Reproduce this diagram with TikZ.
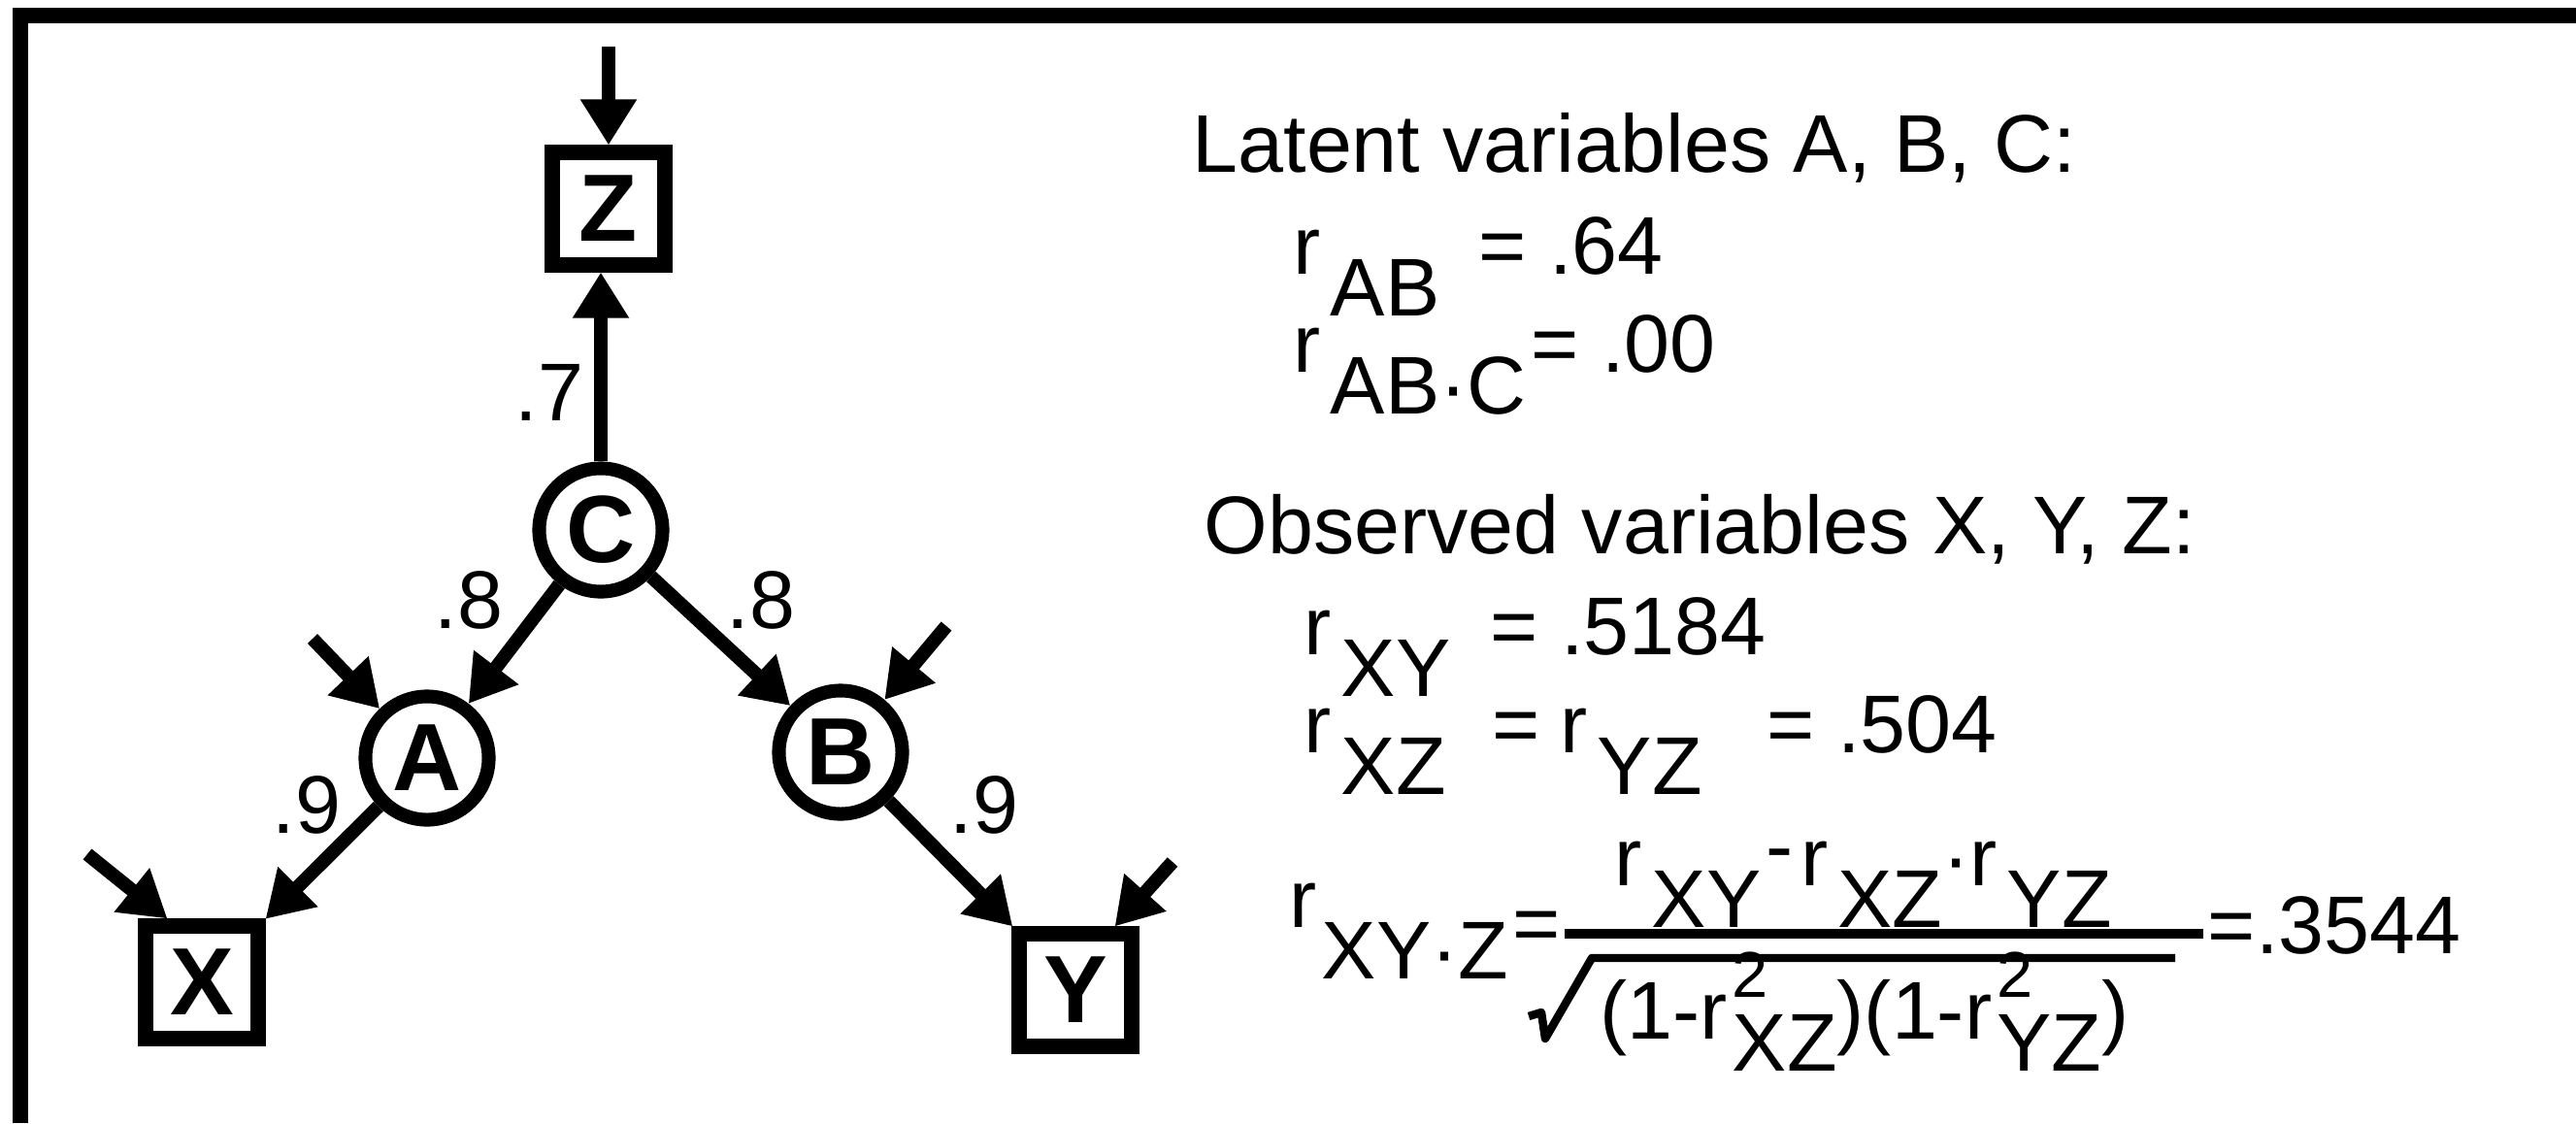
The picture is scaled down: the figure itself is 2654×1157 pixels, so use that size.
\documentclass[tikz,border=0pt]{standalone}
\usepackage{fontspec}
\setmainfont{Liberation Sans}
\usetikzlibrary{arrows.meta}
\newcommand{\lowsub}[2][0.43cm]{\kern0.1cm\raisebox{-#1}{#2}}
\newcommand{\supsub}[2]{\kern0.05cm\rlap{\raisebox{0.42cm}{\fontsize{19}{23}\selectfont #1}}\raisebox{-0.33cm}{#2}}

\begin{document}
\begin{tikzpicture}[x=0.01cm, y=-0.01cm,
    obs/.style={draw, line width=4.3pt, minimum size=1.16cm, inner sep=0pt,
                font=\fontsize{28}{34}\selectfont\bfseries},
    lat/.style={draw, circle, line width=4pt, minimum size=1.27cm, inner sep=0pt,
                font=\fontsize{28}{34}\selectfont\bfseries},
    arr/.style={-{Triangle[length=4.7mm, width=5.5mm]}, line width=4pt},
    txt/.style={anchor=base west, inner sep=0pt, font=\fontsize{24}{29}\selectfont},
]
    \useasboundingbox (0,0) rectangle (2654,1157);
    \draw[line width=4.5pt] (21,1157) -- (21,16) -- (2654,16);

    \node[obs] (Z) at (627,215) {Z};
    \node[lat] (C) at (619,546) {C};
    \node[lat] (A) at (440,781) {A};
    \node[lat] (B) at (866,775) {B};
    \node[obs] (X) at (208,1012) {X};
    \node[obs] (Y) at (1108,1020) {Y};

    \coordinate (eZ) at (627,48);
    \coordinate (eA) at (322,658);
    \coordinate (eB) at (975,645);
    \coordinate (eX) at (90,880);
    \coordinate (eY) at (1208,888);

    \draw[arr] (C) -- (C |- Z.south);
    \draw[arr] (C) -- (A);
    \draw[arr] (C) -- (B);
    \draw[arr] (A) -- (X);
    \draw[arr] (B) -- (Y);
    \draw[arr] (eZ) -- (Z);
    \draw[arr] (eA) -- (A);
    \draw[arr] (eB) -- (B);
    \draw[arr] (eX) -- ([xshift=0.3cm]X.north west);
    \draw[arr] (eY) -- ([xshift=-0.25cm]Y.north east);

    \node[txt] (w7) at (530,433) {.7};
    \node[txt] (w8a) at (447,647) {.8};
    \node[txt] (w8b) at (748,647) {.8};
    \node[txt] (w9a) at (280,858) {.9};
    \node[txt] (w9b) at (978,858) {.9};

    \node[txt] (latent) at (1228,177) {Latent variables A, B, C:};
    \node[txt] (rab) at (1332,282) {r\lowsub{AB}};
    \node[txt] (rabv) at (1523,282) {= .64};
    \node[txt] (rabc) at (1332,383) {r\lowsub{AB·C}};
    \node[txt] (rabcv) at (1577,383) {= .00};

    \node[txt] (observed) at (1240,570) {Observed variables X, Y, Z:};
    \node[txt] (rxy) at (1343,674) {r\lowsub{XY}};
    \node[txt] (rxyv) at (1535,674) {= .5184};
    \node[txt] (rxz) at (1343,775) {r\lowsub{XZ}};
    \node[txt] (rxzeq) at (1537,775) {=};
    \node[txt] (ryz) at (1607,775) {r\lowsub{YZ}};
    \node[txt] (rxzv) at (1820,775) {= .504};

    \node[txt] (rxyz) at (1328,955) {r\kern-0.05cm\lowsub[0.53cm]{XY·Z}};
    \node[txt] (feq) at (1558,980) {=};
    \node[txt] (fnum) at (1663,912)
        {r\lowsub{XY}\kern0.05cm\raisebox{0.12cm}{-}\kern0.08cm r\lowsub{XZ}·r\lowsub{YZ}};
    \draw[line width=2.6pt] (1612,962) -- (2270,962);
    \node[txt] (fval) at (2274,982) {=.3544};
    \draw[line width=2.4pt, line join=round] (1575,1047) -- (1588,1043) -- (1592,1070)
        -- (1640,987) -- (2241,987);
    \node[txt] (fden) at (1648,1070) {(1-r\supsub{2}{XZ})(1-r\supsub{2}{YZ})};
\end{tikzpicture}
\end{document}
